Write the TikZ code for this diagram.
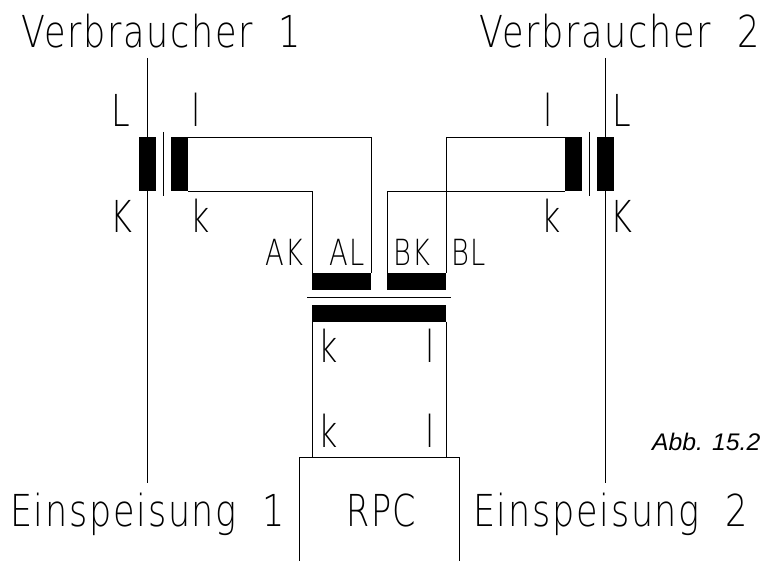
\documentclass[tikz,border=0pt]{standalone}
\usepackage{fontspec}
\newfontfamily\cad[LetterSpace=5]{DejaVu Sans ExtraLight}
\setmainfont{Liberation Sans}
\tikzset{
 wire/.style={draw=black,line width=0.8pt},
 core/.style={rectangle,fill=black,draw=none,inner sep=0pt,outer sep=0pt,anchor=north west},
 big/.style={font=\cad\fontsize{44}{44}\selectfont,inner sep=0pt,anchor=base west,xscale=.795},
 mid/.style={font=\cad\fontsize{44}{44}\selectfont,inner sep=0pt,anchor=base west,xscale=.76},
 small/.style={font=\cad\fontsize{36}{36}\selectfont,inner sep=0pt,anchor=base west,xscale=.76},
 figcap/.style={font=\itshape\fontsize{24}{24}\selectfont,inner sep=0pt,anchor=base west,xscale=1.03}
}
\begin{document}
\begin{tikzpicture}[x=1pt,y=-1pt]
\useasboundingbox (0,0) rectangle (768,561);
\fill[white] (0,0) rectangle (768,561);
% cores
\node[core,minimum width=17pt,minimum height=54pt] (c1) at (139,137) {};
\node[core,minimum width=17pt,minimum height=54pt] (c2) at (171,137) {};
\node[core,minimum width=17pt,minimum height=54pt] (c3) at (565,137) {};
\node[core,minimum width=17pt,minimum height=54pt] (c4) at (597,137) {};
\node[core,minimum width=59pt,minimum height=17.5pt] (al) at (312.3,272.6) {};
\node[core,minimum width=59pt,minimum height=17.5pt] (bk) at (387,272.6) {};
\node[core,minimum width=134pt,minimum height=17pt] (pri) at (312.3,304.5) {};
% free ends
\coordinate (v1t) at (147.5,58);\coordinate (v1b) at (147.5,483);
\coordinate (v2t) at (605.7,58);\coordinate (v2b) at (605.7,483);
\coordinate (s1t) at (163.4,132);\coordinate (s1b) at (163.4,196);
\coordinate (s2t) at (589.3,132);\coordinate (s2b) at (589.3,196);
\coordinate (st) at (307,297);\coordinate (se) at (451,297);
% RPC box (open at the bottom)
\coordinate (ra) at (299.2,561);\coordinate (rb) at (299.2,457);\coordinate (rc) at (459,457);\coordinate (rd) at (459,561);
\draw[wire] (ra)--(rb)--(rc)--(rd);
% lines
\draw[wire] (v1t)--(v1b);
\draw[wire] (v2t)--(v2b);
\draw[wire] (s1t)--(s1b);
\draw[wire] (s2t)--(s2b);
\draw[wire] (st)--(se);
\draw[wire] (c2.north east)-|(al.north east);
\draw[wire] (c2.south east)-|(al.north west);
\draw[wire] (c3.north west)-|(bk.north east);
\draw[wire] (c3.south west)-|(bk.north west);
\draw[wire] (pri.south west)--(pri.south west|-rb);
\draw[wire] (pri.south east)--(pri.south east|-rb);
% labels
\node[big] (t1) at (21,48) {Verbraucher\ \ 1};
\node[big] (t2) at (479,48) {Verbraucher\ \ 2};
\node[big] (t3) at (10,526) {Einspeisung\ \ 1};
\node[big] (t4) at (473,526) {Einspeisung\ \ 2};
\node[mid] (t5) at (346,526) {RPC};
\node[mid] (l1) at (111,127) {L};
\node[mid] (l2) at (191.5,127) {l};
\node[mid] (l3) at (110,233) {K};
\node[mid] (l4) at (190.5,233) {k};
\node[mid] (l5) at (543,127) {l};
\node[mid] (l6) at (612,127) {L};
\node[mid] (l7) at (541.5,233) {k};
\node[mid] (l8) at (610.5,233) {K};
\node[small] (a1) at (265,265.5) {AK};
\node[small] (a2) at (329,265.5) {AL};
\node[small] (a3) at (393,265.5) {BK};
\node[small] (a4) at (451,265.5) {BL};
\node[mid] (k1) at (318.5,362) {k};
\node[mid] (k2) at (425,362) {l};
\node[mid] (k3) at (318.5,447) {k};
\node[mid] (k4) at (425,447) {l};
\node[figcap] (c) at (652,450) {Abb. 15.2};
\end{tikzpicture}
\end{document}
